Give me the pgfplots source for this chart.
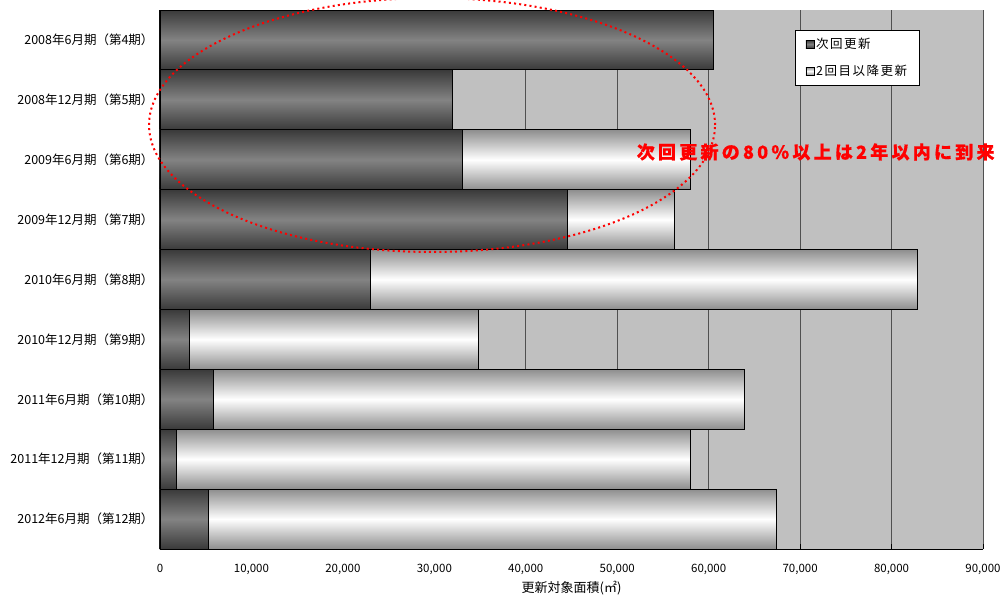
\documentclass[border=0pt]{standalone}
\usepackage{fontspec}
\setmainfont{Noto Sans CJK JP}
\usepackage{pgfplots}
\pgfplotsset{compat=1.18}
\definecolor{silverbg}{HTML}{C0C0C0}
\definecolor{darkedge}{HTML}{3A3A3A}
\definecolor{darkmid}{HTML}{838383}
\definecolor{whiteedge}{HTML}{8E8E8E}
\definecolor{gridc}{HTML}{505050}
\pgfplotsset{
  darkbar/.style={draw=black, line width=0.8pt, top color=darkedge, bottom color=darkedge, middle color=darkmid, forget plot},
  whitebar/.style={draw=black, line width=0.8pt, top color=whiteedge, bottom color=whiteedge, middle color=white, forget plot},
}
\begin{document}
\begin{tikzpicture}
\begin{axis}[
  name=ax,
  scale only axis,
  width=823pt, height=539pt,
  xbar, bar shift=0pt,
  bar width=1,
  y dir=reverse,
  xmin=0, xmax=90000,
  ymin=-0.5, ymax=8.5,
  xtick={0,10000,...,90000},
  ytick={0,...,8},
  yticklabels={2008年6月期（第4期）,2008年12月期（第5期）,2009年6月期（第6期）,2009年12月期（第7期）,2010年6月期（第8期）,2010年12月期（第9期）,2011年6月期（第10期）,2011年12月期（第11期）,2012年6月期（第12期）},
  scaled x ticks=false,
  /pgf/number format/.cd, 1000 sep={,}, assume math mode=true,
  /pgfplots/.cd,
  axis x line*=bottom,
  axis y line*=left,
  axis line style={black, line width=1pt},
  xmajorgrids,
  major grid style={gridc, line width=0.8pt},
  xtick style={black, line width=0.6pt},
  major tick length=5pt,
  xtick pos=bottom,
  tick align=inside,
  ytick style={draw=none},
  axis background/.style={fill=silverbg},
  xticklabel style={font=\fontsize{11.5}{13}\selectfont, yshift=-12pt},
  yticklabel style={font=\fontsize{12.5}{14}\selectfont, xshift=-3pt},
  xlabel={更新対象面積(㎡)},
  xlabel style={font=\fontsize{13}{15}\selectfont, yshift=1pt},
  clip=false,
  legend style={at={(0.772,0.963)}, anchor=north west, draw=black, fill=white,
    font=\fontsize{12.5}{14}\selectfont\addfontfeatures{LetterSpace=12}, row sep=11pt, inner xsep=10pt, inner ysep=6pt,
    /tikz/every even column/.append style={column sep=1pt}},
  legend cell align=left,
  legend image code/.code={\draw[#1, line width=0.6pt] (0pt,-4pt) rectangle (8pt,4pt);},
]
\addlegendimage{draw=black, top color=darkedge, bottom color=darkedge, middle color=darkmid}
\addlegendentry{次回更新}
\addlegendimage{draw=black, top color=whiteedge, bottom color=whiteedge, middle color=white}
\addlegendentry{2回目以降更新}
% totals (次回更新 + 2回目以降更新)
\addplot[whitebar] coordinates {(58000,2)};
\addplot[whitebar] coordinates {(56200,3)};
\addplot[whitebar] coordinates {(82800,4)};
\addplot[whitebar] coordinates {(34800,5)};
\addplot[whitebar] coordinates {(63900,6)};
\addplot[whitebar] coordinates {(57950,7)};
\addplot[whitebar] coordinates {(67450,8)};
% 次回更新
\addplot[darkbar] coordinates {(60500,0)};
\addplot[darkbar] coordinates {(32000,1)};
\addplot[darkbar] coordinates {(33100,2)};
\addplot[darkbar] coordinates {(44500,3)};
\addplot[darkbar] coordinates {(23000,4)};
\addplot[darkbar] coordinates {(3200,5)};
\addplot[darkbar] coordinates {(5800,6)};
\addplot[darkbar] coordinates {(1750,7)};
\addplot[darkbar] coordinates {(5250,8)};
\coordinate (ec) at (axis cs:29750,1.42);
\coordinate (tc) at (axis cs:71700,1.87);
\end{axis}
\draw[red, line width=2pt, dash pattern=on 2pt off 3.2pt, overlay] (ec) ellipse [x radius=283pt, y radius=127pt];
\node[text=red, font=\fontsize{18}{20}\selectfont\bfseries\addfontfeatures{LetterSpace=18,FakeBold=0.6}] at (tc) {次回更新の80\%以上は2年以内に到来};
\pgfresetboundingbox
\path[use as bounding box] ([shift={(-160pt,-49pt)}]ax.south west) rectangle ([shift={(20pt,10pt)}]ax.north east);
\end{tikzpicture}
\end{document}
